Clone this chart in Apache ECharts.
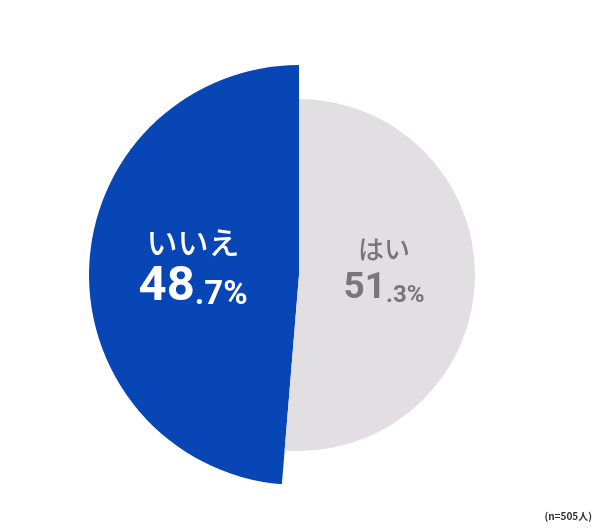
<!DOCTYPE html>
<html><head><meta charset="utf-8">
<script src="https://cdn.jsdelivr.net/npm/echarts@6/dist/echarts.min.js"></script>
<style>html,body{margin:0;padding:0;background:#fff}#c{width:600px;height:529px}</style>
</head><body><div id="c"></div>
<script>
const categories = ['はい', 'いいえ'];
const values = [51.3, 48.7];
const note = '(n=505人)';

const colors = ['#E2DFE3', '#0845B5'];

function fmt(p) {
  const parts = p.value.toFixed(1).split('.');
  const k = p.dataIndex === 0 ? 'g' : 'w';
  return '{' + k + 'n|' + p.name + '}\n{' + k + 'b|' + parts[0] + '}{' + k + 's|.' + parts[1] + '%}';
}
const rich = {
  wn: {fontFamily: 'Noto Sans CJK JP', fontSize: 31, fontWeight: 500, color: '#fff', lineHeight: 44},
  wb: {fontFamily: 'Roboto', fontSize: 49, fontWeight: 'bold', color: '#fff', lineHeight: 48, verticalAlign: 'bottom'},
  ws: {fontFamily: 'Roboto', fontSize: 33, fontWeight: 'bold', color: '#fff', lineHeight: 48, verticalAlign: 'bottom'},
  gn: {fontFamily: 'Noto Sans CJK JP', fontSize: 26, fontWeight: 500, color: '#777', lineHeight: 38},
  gb: {fontFamily: 'Roboto', fontSize: 37, fontWeight: 'bold', color: '#777', lineHeight: 40, verticalAlign: 'bottom'},
  gs: {fontFamily: 'Roboto', fontSize: 24, fontWeight: 'bold', color: '#777', lineHeight: 40, verticalAlign: 'bottom'}
};

function makeData(show) {
  return categories.map((c, i) => ({
    name: c, value: values[i],
    itemStyle: {color: i === show ? colors[i] : 'rgba(0,0,0,0)', borderWidth: 0},
    label: {show: i === show}
  }));
}

const chart = echarts.init(document.getElementById('c'));
chart.setOption({
  animation: false,
  title: {text: note, right: 3, bottom: 3, textStyle: {fontSize: 10, fontWeight: 'bold', color: '#333', fontFamily: 'Noto Sans CJK JP'}},
  series: [
    {
      type: 'pie', center: [299, 275], radius: [0, 210], startAngle: 90, clockwise: true,
      silent: true, data: makeData(1),
      label: {position: 'inside', formatter: fmt, rich: rich, align: 'center'},
      labelLayout: {dx: 2, dy: -4}
    },
    {
      type: 'pie', center: [299, 275], radius: [0, 176], startAngle: 90, clockwise: true,
      silent: true, data: makeData(0),
      itemStyle: {borderColor: '#fff', borderWidth: 1},
      label: {position: 'inside', formatter: fmt, rich: rich, align: 'center'},
      labelLayout: {dx: -6, dy: -10}
    }
  ]
});
</script></body></html>
